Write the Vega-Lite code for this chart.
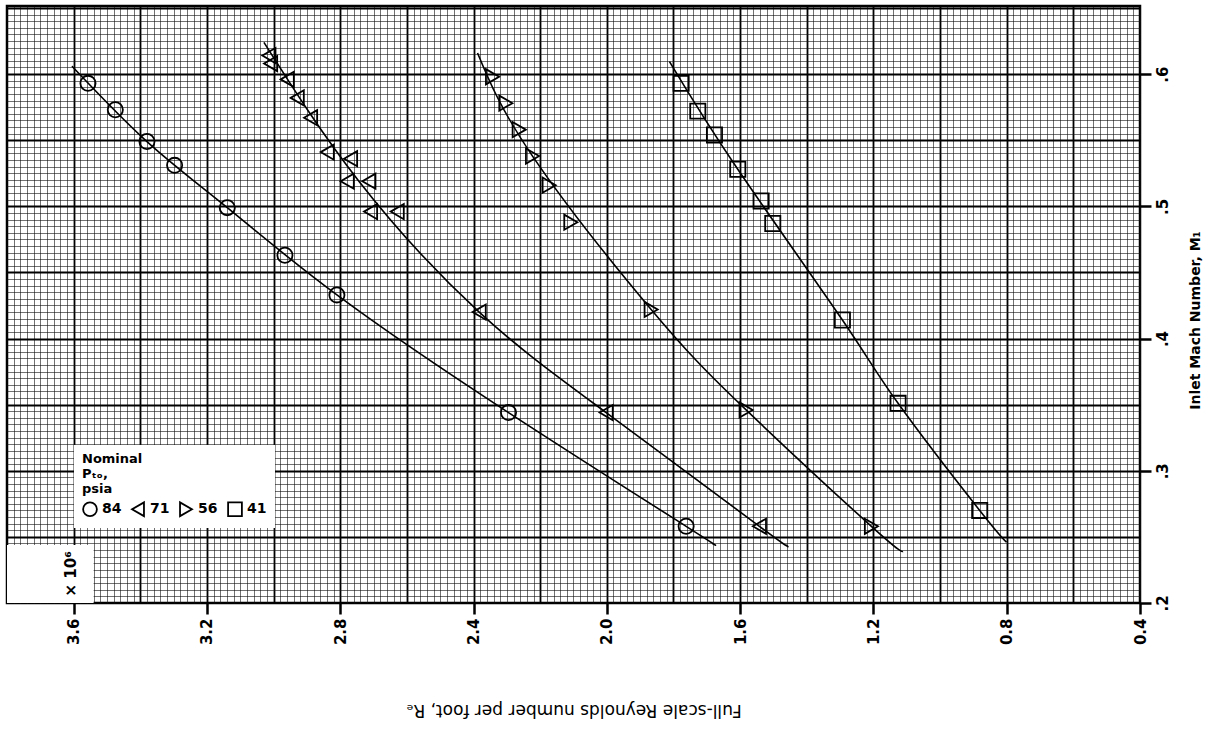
{
  "$schema": "https://vega.github.io/schema/vega-lite/v6.json",
  "width": 1133,
  "height": 597,
  "autosize": {"type": "none"},
  "padding": {"left": 7, "top": 6, "right": 82, "bottom": 128},
  "background": "white",
  "config": {
    "view": {"stroke": "black", "strokeWidth": 2.5},
    "font": "DejaVu Sans"
  },
  "datasets": {
    "points": [
      {"psia": "84", "re": 3.557, "mach": 0.593},
      {"psia": "84", "re": 3.475, "mach": 0.573},
      {"psia": "84", "re": 3.380, "mach": 0.549},
      {"psia": "84", "re": 3.297, "mach": 0.531},
      {"psia": "84", "re": 3.139, "mach": 0.499},
      {"psia": "84", "re": 2.966, "mach": 0.463},
      {"psia": "84", "re": 2.810, "mach": 0.433},
      {"psia": "84", "re": 2.295, "mach": 0.344},
      {"psia": "84", "re": 1.762, "mach": 0.258},
      {"psia": "71", "re": 3.014, "mach": 0.614},
      {"psia": "71", "re": 3.009, "mach": 0.608},
      {"psia": "71", "re": 2.959, "mach": 0.596},
      {"psia": "71", "re": 2.929, "mach": 0.582},
      {"psia": "71", "re": 2.889, "mach": 0.567},
      {"psia": "71", "re": 2.839, "mach": 0.541},
      {"psia": "71", "re": 2.769, "mach": 0.536},
      {"psia": "71", "re": 2.779, "mach": 0.519},
      {"psia": "71", "re": 2.714, "mach": 0.519},
      {"psia": "71", "re": 2.709, "mach": 0.496},
      {"psia": "71", "re": 2.629, "mach": 0.496},
      {"psia": "71", "re": 2.383, "mach": 0.420},
      {"psia": "71", "re": 2.002, "mach": 0.344},
      {"psia": "71", "re": 1.542, "mach": 0.258},
      {"psia": "56", "re": 2.343, "mach": 0.598},
      {"psia": "56", "re": 2.303, "mach": 0.578},
      {"psia": "56", "re": 2.263, "mach": 0.558},
      {"psia": "56", "re": 2.223, "mach": 0.538},
      {"psia": "56", "re": 2.173, "mach": 0.516},
      {"psia": "56", "re": 2.108, "mach": 0.488},
      {"psia": "56", "re": 1.867, "mach": 0.422},
      {"psia": "56", "re": 1.582, "mach": 0.346},
      {"psia": "56", "re": 1.206, "mach": 0.258},
      {"psia": "41", "re": 1.777, "mach": 0.593},
      {"psia": "41", "re": 1.727, "mach": 0.572},
      {"psia": "41", "re": 1.677, "mach": 0.554},
      {"psia": "41", "re": 1.607, "mach": 0.528},
      {"psia": "41", "re": 1.537, "mach": 0.504},
      {"psia": "41", "re": 1.502, "mach": 0.487},
      {"psia": "41", "re": 1.293, "mach": 0.414},
      {"psia": "41", "re": 1.126, "mach": 0.351},
      {"psia": "41", "re": 0.881, "mach": 0.270}
    ],
    "fits": [
      {"psia": "84", "re": 3.605, "mach": 0.606},
      {"psia": "84", "re": 3.380, "mach": 0.549},
      {"psia": "84", "re": 3.139, "mach": 0.499},
      {"psia": "84", "re": 2.810, "mach": 0.433},
      {"psia": "84", "re": 2.295, "mach": 0.344},
      {"psia": "84", "re": 1.762, "mach": 0.258},
      {"psia": "84", "re": 1.683, "mach": 0.245},
      {"psia": "71", "re": 3.029, "mach": 0.624},
      {"psia": "71", "re": 2.744, "mach": 0.519},
      {"psia": "71", "re": 2.383, "mach": 0.420},
      {"psia": "71", "re": 2.002, "mach": 0.344},
      {"psia": "71", "re": 1.542, "mach": 0.258},
      {"psia": "71", "re": 1.462, "mach": 0.244},
      {"psia": "56", "re": 2.388, "mach": 0.616},
      {"psia": "56", "re": 2.223, "mach": 0.538},
      {"psia": "56", "re": 1.867, "mach": 0.422},
      {"psia": "56", "re": 1.582, "mach": 0.346},
      {"psia": "56", "re": 1.206, "mach": 0.258},
      {"psia": "56", "re": 1.111, "mach": 0.239},
      {"psia": "41", "re": 1.812, "mach": 0.6095},
      {"psia": "41", "re": 1.607, "mach": 0.528},
      {"psia": "41", "re": 1.293, "mach": 0.414},
      {"psia": "41", "re": 1.126, "mach": 0.351},
      {"psia": "41", "re": 0.881, "mach": 0.270},
      {"psia": "41", "re": 0.8005, "mach": 0.246}
    ]
  },
  "layer": [
    {
      "data": {"name": "fits"},
      "mark": {"type": "line", "color": "black", "strokeWidth": 1.6, "interpolate": "natural"},
      "encoding": {
        "x": {
          "field": "re", "type": "quantitative",
          "scale": {"domain": [0.4, 3.8], "reverse": true, "nice": false, "zero": false},
          "axis": {"orient": "bottom", "grid": true, "gridColor": "#111", "gridOpacity": 0.75, "gridWidth": 0.8, "labels": false, "ticks": false, "domain": false, "title": null,
            "values": [0.4,0.42,0.44,0.46,0.48,0.5,0.52,0.54,0.56,0.58,0.6,0.62,0.64,0.66,0.68,0.7,0.72,0.74,0.76,0.78,0.8,0.82,0.84,0.86,0.88,0.9,0.92,0.94,0.96,0.98,1.0,1.02,1.04,1.06,1.08,1.1,1.12,1.14,1.16,1.18,1.2,1.22,1.24,1.26,1.28,1.3,1.32,1.34,1.36,1.38,1.4,1.42,1.44,1.46,1.48,1.5,1.52,1.54,1.56,1.58,1.6,1.62,1.64,1.66,1.68,1.7,1.72,1.74,1.76,1.78,1.8,1.82,1.84,1.86,1.88,1.9,1.92,1.94,1.96,1.98,2.0,2.02,2.04,2.06,2.08,2.1,2.12,2.14,2.16,2.18,2.2,2.22,2.24,2.26,2.28,2.3,2.32,2.34,2.36,2.38,2.4,2.42,2.44,2.46,2.48,2.5,2.52,2.54,2.56,2.58,2.6,2.62,2.64,2.66,2.68,2.7,2.72,2.74,2.76,2.78,2.8,2.82,2.84,2.86,2.88,2.9,2.92,2.94,2.96,2.98,3.0,3.02,3.04,3.06,3.08,3.1,3.12,3.14,3.16,3.18,3.2,3.22,3.24,3.26,3.28,3.3,3.32,3.34,3.36,3.38,3.4,3.42,3.44,3.46,3.48,3.5,3.52,3.54,3.56,3.58,3.6,3.62,3.64,3.66,3.68,3.7,3.72,3.74,3.76,3.78]}
        },
        "y": {
          "field": "mach", "type": "quantitative",
          "scale": {"domain": [0.2, 0.6515], "nice": false, "zero": false},
          "axis": {"orient": "right", "grid": true, "gridColor": "#111", "gridOpacity": 0.75, "gridWidth": 0.8, "labels": false, "ticks": false, "domain": false, "title": null,
            "values": [0.205,0.21,0.215,0.22,0.225,0.23,0.235,0.24,0.245,0.25,0.255,0.26,0.265,0.27,0.275,0.28,0.285,0.29,0.295,0.3,0.305,0.31,0.315,0.32,0.325,0.33,0.335,0.34,0.345,0.35,0.355,0.36,0.365,0.37,0.375,0.38,0.385,0.39,0.395,0.4,0.405,0.41,0.415,0.42,0.425,0.43,0.435,0.44,0.445,0.45,0.455,0.46,0.465,0.47,0.475,0.48,0.485,0.49,0.495,0.5,0.505,0.51,0.515,0.52,0.525,0.53,0.535,0.54,0.545,0.55,0.555,0.56,0.565,0.57,0.575,0.58,0.585,0.59,0.595,0.6,0.605,0.61,0.615,0.62,0.625,0.63,0.635,0.64,0.645,0.65]}
        },
        "detail": {"field": "psia", "type": "nominal"}
      }
    },
    {
      "data": {"values": [{}]},
      "mark": {"type": "rect", "fill": "white"},
      "encoding": {
        "x": {"datum": 3.8, "type": "quantitative",
          "axis": {"orient": "bottom", "grid": true, "gridColor": "black", "gridWidth": 1.8, "values": [0.6,0.8,1.0,1.2,1.4,1.6,1.8,2.0,2.2,2.4,2.6,2.8,3.0,3.2,3.4,3.6], "labels": false, "ticks": false, "domain": false, "title": null}},
        "x2": {"datum": 3.54},
        "y": {"datum": 0.2, "type": "quantitative",
          "axis": {"orient": "right", "grid": true, "gridColor": "black", "gridWidth": 1.8, "values": [0.25,0.3,0.35,0.4,0.45,0.5,0.55,0.6,0.65], "labels": false, "ticks": false, "domain": false, "title": null}},
        "y2": {"datum": 0.2439}
      }
    },
    {
      "data": {"name": "points"},
      "mark": {"type": "point", "filled": false, "color": "black", "strokeWidth": 1.8, "size": 230, "opacity": 1},
      "encoding": {
        "x": {
          "field": "re", "type": "quantitative",
          "axis": {
            "orient": "bottom", "grid": false, "values": [0.4, 0.8, 1.2, 1.6, 2.0, 2.4, 2.8, 3.2, 3.6],
            "format": ".1f", "labelAngle": 270, "labelAlign": "right", "labelBaseline": "middle",
            "labelFont": "DejaVu Sans", "labelFontSize": 15, "labelFontWeight": "bold", "labelColor": "black", "labelPadding": 4,
            "tickColor": "black", "tickWidth": 2.5, "tickSize": 11, "domain": false,
            "title": "Full-scale Reynolds number per foot, Rₑ", "titleAngle": 180, "titleBaseline": "bottom",
            "titleFont": "DejaVu Sans", "titleFontSize": 17, "titleFontWeight": "normal", "titleColor": "black", "titlePadding": 56
          }
        },
        "y": {
          "field": "mach", "type": "quantitative",
          "axis": {
            "orient": "right", "grid": false, "values": [0.2, 0.3, 0.4, 0.5, 0.6],
            "labelExpr": "replace(format(datum.value, '.1f'), '0.', '.')",
            "labelAngle": 270, "labelAlign": "center", "labelBaseline": "top",
            "labelFont": "DejaVu Sans", "labelFontSize": 15, "labelFontWeight": "bold", "labelColor": "black", "labelPadding": 4,
            "tickColor": "black", "tickWidth": 2.5, "tickSize": 11, "domain": false,
            "title": "Inlet Mach Number, M₁", "titleAngle": 270, "titleBaseline": "top", "titleY": 314,
            "titleFont": "DejaVu Sans", "titleFontSize": 14, "titleFontWeight": "bold", "titleColor": "black", "titlePadding": 18
          }
        },
        "shape": {
          "field": "psia", "type": "nominal",
          "scale": {"domain": ["84", "71", "56", "41"], "range": ["circle", "triangle-left", "triangle-right", "square"]},
          "legend": {
            "title": ["Nominal", "Pₜₒ,", "psia"],
            "orient": "none", "legendX": 67, "legendY": 439,
            "direction": "horizontal", "columns": 4,
            "fillColor": "white", "padding": 8, "columnPadding": 6,
            "titleFont": "DejaVu Sans", "titleFontSize": 13, "titleFontWeight": "bold", "titleColor": "black",
            "labelFont": "DejaVu Sans", "labelFontSize": 14, "labelFontWeight": "bold", "labelColor": "black",
            "symbolSize": 190, "symbolStrokeWidth": 1.8, "symbolStrokeColor": "black", "symbolFillColor": "transparent"
          }
        }
      }
    },
    {
      "data": {"values": [{}]},
      "mark": {"type": "text", "text": "× 10⁶", "angle": 270, "font": "DejaVu Sans", "fontSize": 15, "fontWeight": "bold", "color": "black", "align": "center", "baseline": "middle"},
      "encoding": {
        "x": {"datum": 3.609, "type": "quantitative", "axis": null},
        "y": {"datum": 0.222, "type": "quantitative", "axis": null}
      }
    }
  ],
  "resolve": {"axis": {"x": "independent", "y": "independent"}}
}
